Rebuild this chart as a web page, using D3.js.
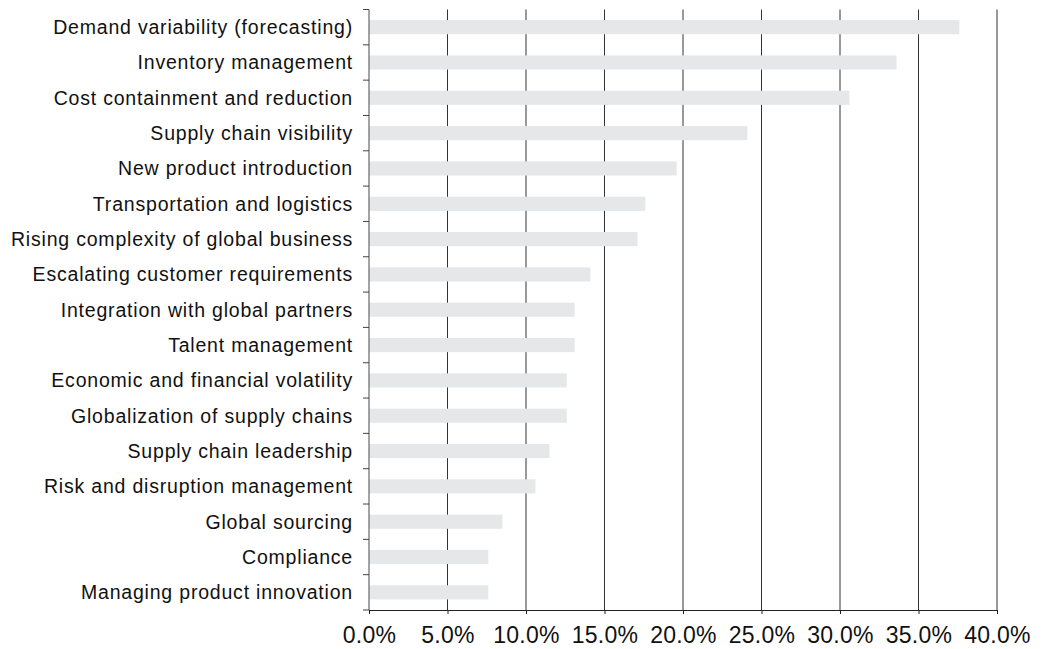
<!DOCTYPE html>
<html>
<head>
<meta charset="utf-8">
<script src="https://cdn.jsdelivr.net/npm/d3@7"></script>
<style>
  body { margin: 0; background: #fff; }
  text { font-family: "Liberation Sans", Arial, sans-serif; fill: #111; }
</style>
</head>
<body>
<div id="chart"></div>
<script>
var categories = [
  "Demand variability (forecasting)",
  "Inventory management",
  "Cost containment and reduction",
  "Supply chain visibility",
  "New product introduction",
  "Transportation and logistics",
  "Rising complexity of global business",
  "Escalating customer requirements",
  "Integration with global partners",
  "Talent management",
  "Economic and financial volatility",
  "Globalization of supply chains",
  "Supply chain leadership",
  "Risk and disruption management",
  "Global sourcing",
  "Compliance",
  "Managing product innovation"
];
var values = [0.376, 0.336, 0.306, 0.241, 0.196, 0.176, 0.171, 0.141, 0.131, 0.131, 0.126, 0.126, 0.115, 0.106, 0.085, 0.076, 0.076];
var xTicks = [0, 0.05, 0.10, 0.15, 0.20, 0.25, 0.30, 0.35, 0.40];

var width = 1045, height = 649;
var plotLeft = 369, plotRight = 997, plotTop = 9.5, plotBottom = 610;

var svg = d3.select('#chart')
  .append('svg')
  .attr('width', width)
  .attr('height', height);

var x = d3.scaleLinear().domain([0, 0.4]).range([plotLeft, plotRight]);
var y = d3.scaleBand().domain(categories).range([plotTop, plotBottom]).paddingInner(0.6).paddingOuter(0.3);

// gridlines
svg.selectAll('line.grid')
  .data(xTicks.slice(1))
  .enter()
  .append('line')
  .attr('class', 'grid')
  .attr('x1', function (d) { return x(d); })
  .attr('x2', function (d) { return x(d); })
  .attr('y1', plotTop)
  .attr('y2', plotBottom)
  .attr('stroke', '#333')
  .attr('stroke-width', 1);

// bars
svg.selectAll('rect.bar')
  .data(values)
  .enter()
  .append('rect')
  .attr('class', 'bar')
  .attr('x', x(0))
  .attr('y', function (d, i) { return y(categories[i]); })
  .attr('width', function (d) { return x(d) - x(0); })
  .attr('height', y.bandwidth())
  .attr('fill', '#e6e7e8');

// x axis
var xAxis = svg.append('g')
  .attr('transform', 'translate(0,' + plotBottom + ')')
  .call(d3.axisBottom(x).tickValues(xTicks).tickFormat(d3.format('.1%')).tickSize(4).tickPadding(13));
xAxis.select('.domain').attr('stroke', '#222');
xAxis.selectAll('.tick line').attr('stroke', '#222');
xAxis.selectAll('text')
  .attr('font-size', 23)
  .style('font-size', '23px')
  .style('letter-spacing', '0.3px')
  .attr('fill', '#111');

// y axis with ticks between bands
var yAxis = svg.append('g')
  .attr('transform', 'translate(' + plotLeft + ',0)');
yAxis.append('line')
  .attr('x1', 0).attr('x2', 0)
  .attr('y1', plotTop).attr('y2', plotBottom)
  .attr('stroke', '#666')
  .attr('stroke-width', 1.2);
var step = (plotBottom - plotTop) / categories.length;
yAxis.selectAll('line.ytick')
  .data(d3.range(categories.length + 1))
  .enter()
  .append('line')
  .attr('class', 'ytick')
  .attr('x1', -6).attr('x2', 0)
  .attr('y1', function (d) { return plotTop + d * step; })
  .attr('y2', function (d) { return plotTop + d * step; })
  .attr('stroke', '#444');

yAxis.selectAll('text.ylabel')
  .data(categories)
  .enter()
  .append('text')
  .attr('class', 'ylabel')
  .attr('x', -16)
  .attr('y', function (d) { return y(d) + y.bandwidth() / 2; })
  .attr('dy', '0.35em')
  .attr('text-anchor', 'end')
  .style('font-size', '19.5px')
  .style('letter-spacing', '0.8px')
  .text(function (d) { return d; });
</script>
</body>
</html>
